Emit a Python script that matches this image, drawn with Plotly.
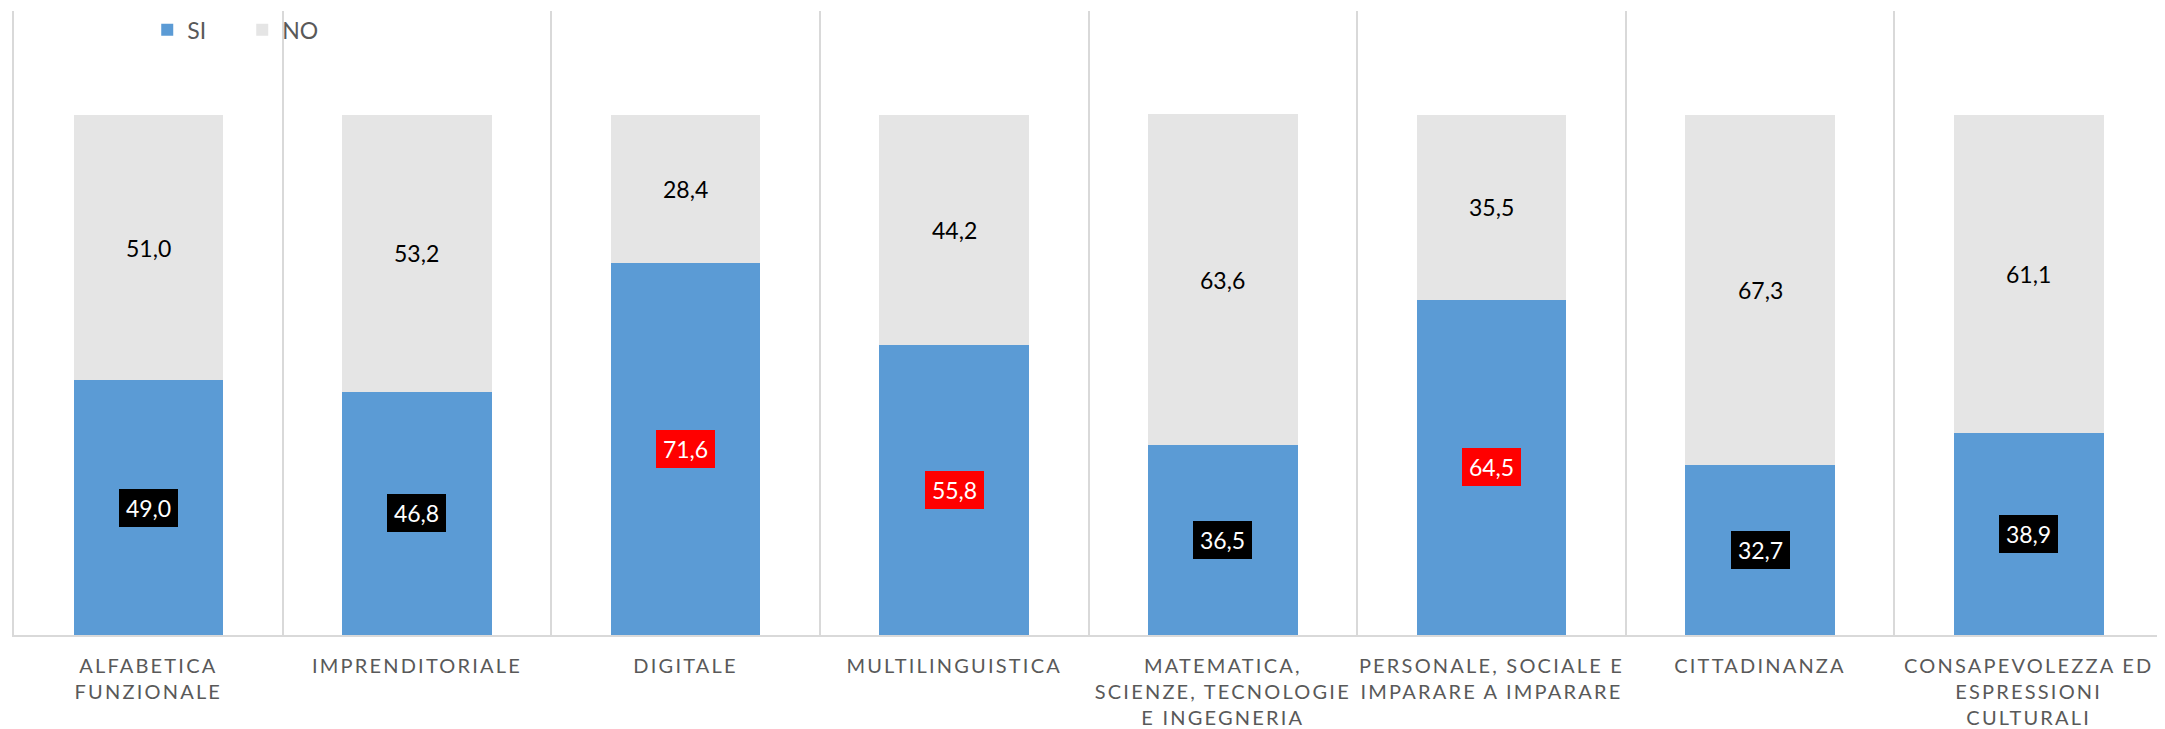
import plotly.graph_objects as go

categories = [
    "ALFABETICA<br>FUNZIONALE",
    "IMPRENDITORIALE",
    "DIGITALE",
    "MULTILINGUISTICA",
    "MATEMATICA,<br>SCIENZE, TECNOLOGIE<br>E INGEGNERIA",
    "PERSONALE, SOCIALE E<br>IMPARARE A IMPARARE",
    "CITTADINANZA",
    "CONSAPEVOLEZZA ED<br>ESPRESSIONI<br>CULTURALI",
]
si_values = [49.0, 46.8, 71.6, 55.8, 36.5, 64.5, 32.7, 38.9]
no_values = [51.0, 53.2, 28.4, 44.2, 63.6, 35.5, 67.3, 61.1]

SI_COLOR = "#5B9BD5"
NO_COLOR = "#E5E5E5"
GRID = "#D9D9D9"
FONT = "Lato"


def fmt(v):
    return f"{v:.1f}".replace(".", ",")


def spaced(label):
    return "<br>".join(
        f'<span style="letter-spacing:2.2px">{part}</span>' for part in label.split("<br>")
    )


xs = list(range(len(categories)))

fig = go.Figure()
fig.add_trace(go.Bar(x=xs, y=si_values, name="SI", marker=dict(color=SI_COLOR, line=dict(width=0)),
                     width=0.557, hoverinfo="skip"))
fig.add_trace(go.Bar(x=xs, y=no_values, name="NO", marker=dict(color=NO_COLOR, line=dict(width=0)),
                     width=0.557, hoverinfo="skip"))

annotations = []
for i, (s, n) in enumerate(zip(si_values, no_values)):
    annotations.append(dict(
        x=i, y=s / 2, xref="x", yref="y", text=fmt(s), showarrow=False,
        font=dict(family=FONT, size=23, color="white"),
        bgcolor="#FF0000" if s > 50 else "#000000",
        width=59, height=38, borderpad=0, borderwidth=0,
    ))
    annotations.append(dict(
        x=i, y=s + n / 2, xref="x", yref="y", text=fmt(n), showarrow=False,
        font=dict(family=FONT, size=23, color="black"),
    ))

# page body has an 8px margin: compensate in figure size/margins
fig.update_layout(
    barmode="stack",
    width=2157, height=721,
    margin=dict(l=6, r=1, t=0, b=91),
    paper_bgcolor="white", plot_bgcolor="white",
    font=dict(family=FONT, color="#595959"),
    showlegend=True,
    legend=dict(orientation="h", x=0.062, y=0.97, xanchor="left", yanchor="middle",
                traceorder="normal",
                font=dict(family=FONT, size=23, color="#595959"),
                entrywidth=50, bgcolor="rgba(0,0,0,0)"),
    annotations=annotations,
    xaxis=dict(
        tickmode="array", tickvals=xs, ticktext=[spaced(c) for c in categories],
        range=[-0.5, len(categories) - 0.5],
        showgrid=False, zeroline=False, showline=True, linecolor=GRID, linewidth=2,
        ticks="", tickangle=0, ticklabelstandoff=12,
        tickfont=dict(family=FONT, size=20, color="#595959"),
        minor=dict(tickmode="array", tickvals=[i + 0.5 for i in xs[:-1]],
                   showgrid=True, gridcolor=GRID, gridwidth=2),
    ),
    yaxis=dict(range=[0, 120], showgrid=False, zeroline=False, showticklabels=False,
               showline=True, mirror=True, linecolor=GRID, linewidth=2, ticks=""),
)

fig.write_html("out.html")
